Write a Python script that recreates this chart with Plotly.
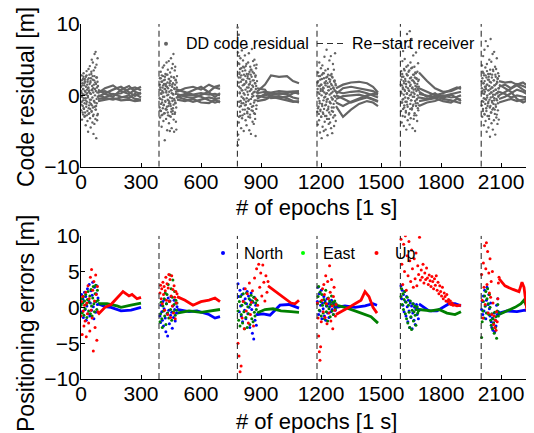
import numpy as np
import plotly.graph_objects as go

# ---------------- data ----------------
restart_epochs = [390, 782, 1180, 1597, 2001]
x_tick_vals = [0, 300, 600, 900, 1200, 1500, 1800, 2100]

# DD code residual: noisy start of each session (epoch windows + values)
cloud_windows = [(0, 85), (392, 480), (788, 880), (1182, 1275), (1599, 1690), (2003, 2090)]
cloud_1 = [1.2, -2.1, 0.4, 2.8, -0.9, -3.4, 1.7, 0.2, -1.5, 2.3,
           -2.7, 0.9, 3.1, -0.4, -1.9, 1.4, -3.0, 2.0, 0.6, -2.4,
           1.9, -0.7, -4.2, 2.6, 0.1, -1.2, 3.4, -2.8, 0.8, 1.5,
           -3.6, 2.2, -0.3, -5.1, 1.1, 3.7, -1.8, 0.5, -2.5, 2.9,
           -1.0, 4.1, -3.2, 0.3, 1.8, -4.5, 2.4, -0.6, 3.3, -2.2,
           5.0, -1.4, 0.7, -3.8, 2.7, 4.6, -2.9, 1.0, -5.4, 3.5,
           -0.8, 2.1, -4.0, 5.8, -1.6, 0.9, 3.9, -3.3, 6.1, -2.0,
           1.6, -6.0, 4.3, -1.1, 2.5, -3.5, 0.4, 5.2, -2.6, 1.3]
cloud_1b = [0.6, -1.3, 2.1, -0.2, 1.4, -2.4, 0.9, -0.7, 2.6, -1.8, 0.1, 1.7, -1.1, 2.3, -2.9,
            0.5, -0.4, 1.2, -1.6, 2.8, -0.9, 0.3, -2.2, 1.9, -0.1, 1.0, -2.6, 2.4, -1.4, 0.7,
            1.6, -0.6, -1.9, 2.0, 0.2, -1.2, 3.0, -2.3, 0.8, 1.3, -0.3, 2.2, -1.7, 0.4, -2.7,
            1.5, -0.8, 2.7, -1.0, 0.0, 1.8, -2.0, 0.6, -1.5, 2.5, -0.5, 1.1, -2.8, 1.9, -0.2]
cloud_2 = [0.8, -1.7, 2.4, -3.1, 1.1, -0.5, 3.3, -2.2, 0.3, 1.9,
           -4.4, 2.8, -1.0, 0.6, -2.7, 3.9, -0.2, 1.4, -3.6, 2.1,
           -1.3, 4.2, -2.5, 0.9, -6.3, 2.6, -0.8, 3.0, -1.9, 1.6,
           -3.3, 0.4, 4.6, -2.0, 1.2, -4.9, 2.9, -0.6, 3.6, -2.8,
           0.1, -1.5, 4.8, -3.9, 2.3, -0.9, 1.7, -5.0, 3.2, -1.2,
           2.0, -3.0, 5.2, -2.3, 0.7, -4.6, 3.8, -0.4, 1.5, -2.6,
           4.4, -1.8, 0.2, 5.8, -3.4, 2.5, -5.1, 1.0, -0.7, 3.5,
           -2.4, 4.0, -1.1, 2.2, -3.7, 0.5, -4.8, 1.8, -0.3, 2.7]
cloud_2b = [-0.4, 1.5, -2.1, 0.8, 2.4, -1.2, 0.2, -2.8, 1.9, -0.6, 1.1, -1.8, 2.7, 0.4, -1.4,
            1.6, -0.2, -2.5, 2.2, 0.9, -0.9, 1.3, -2.0, 0.6, 2.9, -1.6, 0.0, 1.8, -2.4, 1.0,
            -0.7, 2.3, -1.1, 0.5, -2.9, 1.4, -0.3, 2.0, -1.5, 0.7, 2.6, -1.9, 0.3, 1.2, -0.8,
            -2.2, 1.7, 0.1, -1.3, 2.5, -0.5, 0.9, -2.6, 1.5, -1.0, 2.1, 0.2, -1.7, 0.8, 1.1]
cloud_3 = [2.5, -3.8, 1.2, 4.4, -1.6, 0.3, 3.7, -2.9, 5.2, -0.8,
           1.9, -4.6, 2.8, -1.1, 6.3, -3.2, 0.7, 3.4, -2.0, 4.9,
           -0.4, 2.2, -5.0, 1.5, 3.9, -2.6, 0.1, 5.6, -1.4, 2.7,
           -3.5, 4.1, -0.9, 1.8, -4.2, 3.0, 6.8, -2.3, 0.5, 2.4,
           -1.8, 4.6, -3.0, 1.1, 5.9, -0.6, -4.9, 3.3, 1.6, -2.7,
           4.0, -1.2, 2.9, -5.4, 0.8, 3.6, -2.1, 6.5, -0.2, 1.4,
           -3.7, 2.1, 4.8, -1.5, 0.4, -4.0, 3.1, -2.5, 5.0, -0.7,
           1.7, -3.3, 2.6, -5.7, 0.9, 3.8, -1.9, 4.3, -0.1, 2.0]
cloud_3b = [1.8, -0.9, 3.2, 0.4, -2.3, 2.5, 1.0, -1.5, 3.8, -0.2, 0.7, 2.2, -2.8, 1.4, 4.0,
            -1.1, 0.3, 2.9, -0.6, 1.6, -2.0, 3.5, 0.8, -1.3, 2.0, 4.4, -0.4, 1.1, -2.5, 2.7,
            0.1, -0.8, 3.0, 1.5, -1.9, 2.3, 0.6, -3.1, 1.9, 3.6, -0.5, 0.9, 2.6, -1.6, 0.2,
            3.3, -2.2, 1.2, -0.1, 2.1, -1.0, 4.2, 0.5, -2.6, 1.7, 2.8, -0.7, 1.3, -1.4, 0.4]
cloud_4 = [-2.3, 1.8, -4.1, 3.2, 0.4, -1.6, 2.7, -3.5, 4.6, -0.8,
           1.3, -5.2, 2.2, -2.0, 0.9, 3.8, -3.0, 1.5, -6.0, 2.9,
           -1.2, 4.2, -4.4, 0.6, 3.1, -2.6, 1.0, -5.0, 2.4, -0.3,
           5.4, -3.7, 1.7, -1.4, 3.5, -4.8, 0.2, 2.0, -2.9, 6.4,
           -0.6, -3.3, 2.6, -5.6, 1.2, 3.7, -1.9, 0.7, -4.0, 2.3,
           -2.4, 4.9, -0.9, 1.9, -3.8, 2.8, -1.1, 5.5, -4.6, 0.3,
           3.0, -2.2, 1.4, -5.3, 2.5, -0.5, 4.4, -3.1, 1.1, -1.7,
           3.6, -4.3, 0.8, 2.1, -2.8, 5.9, -0.2, 1.6, -3.6, 0.5]
cloud_4b = [0.9, -1.8, 2.0, -0.4, -2.6, 1.3, 0.2, -1.1, 2.7, -2.2, 0.6, 1.5, -3.0, 0.0, 2.3,
            -1.5, 0.8, -2.4, 1.1, -0.7, 3.1, -1.9, 0.4, 1.8, -2.9, -0.2, 1.4, -1.3, 2.5, -0.9,
            0.3, -2.1, 1.7, -0.5, 2.9, -1.6, 0.7, -3.3, 1.2, 0.1, -1.0, 2.2, -2.7, 0.9, 1.6,
            -0.3, -1.7, 2.6, -0.6, 0.5, -2.3, 1.0, -1.2, 2.0, -0.1, 1.9, -2.8, 0.6, -0.8, 1.4]
cloud_5 = [1.5, -2.2, 3.4, 0.3, -3.8, 2.6, -1.0, 4.8, -2.9, 1.1,
           6.2, -0.5, 2.0, -4.3, 3.7, -1.7, 0.8, 5.1, -3.0, 2.3,
           -0.9, 7.5, -2.4, 1.6, -4.8, 3.0, 0.2, 8.6, -1.3, 2.8,
           -3.5, 4.2, -0.4, 1.9, 6.8, -2.7, 0.6, 3.5, -4.1, 9.0,
           1.3, -1.9, 4.6, -3.2, 0.1, 2.5, -0.7, 7.9, -2.0, 1.0,
           3.9, -4.6, 2.1, -1.5, 5.6, 0.4, -3.3, 2.9, -0.2, 4.0,
           -2.5, 1.7, -5.0, 3.2, 0.9, -1.1, 6.0, -2.8, 2.4, -0.6,
           1.2, -3.6, 3.3, 0.0, -1.8, 4.5, -2.1, 0.7, 2.2, -1.4]
cloud_5b = [0.5, 2.2, -1.0, 1.4, 3.0, -0.6, 0.9, -1.9, 2.6, 0.1, 1.7, -1.4, 3.5, 0.6, -0.3,
            2.0, -2.2, 1.2, 4.0, -0.9, 0.3, 2.8, -1.6, 1.0, -0.4, 3.3, 0.7, -2.5, 1.8, 0.0,
            2.4, -1.2, 1.5, -0.7, 3.8, 0.4, -1.8, 2.1, 1.1, -0.2, 2.9, -1.3, 0.8, 1.9, -2.8,
            0.2, 2.5, -0.8, 1.3, 3.1, -1.5, 0.6, 2.3, -0.5, 1.6, -1.1, 0.9, 2.0, -0.3, 1.2]
cloud_6 = [2.0, -1.4, 4.2, -3.0, 0.6, 3.3, -2.2, 5.5, -0.9, 1.7,
           -4.2, 2.8, 0.2, 6.4, -2.7, 1.2, -0.5, 3.9, -3.6, 7.6,
           0.9, -1.8, 2.5, -5.1, 4.4, -0.3, 1.5, -2.9, 6.9, -1.1,
           3.0, -4.5, 0.7, 2.2, -3.3, 5.0, -0.6, 1.9, -5.8, 3.6,
           -1.5, 7.9, -2.4, 0.4, 4.7, -3.9, 1.1, -0.8, 2.9, -2.0,
           5.8, -4.8, 0.1, 3.4, -1.2, 2.1, -3.5, 6.1, -0.4, 1.4,
           -2.6, 4.0, -5.5, 0.8, 2.6, -1.6, 3.7, -3.1, 0.3, 5.2,
           -0.7, 1.8, -4.0, 2.4, -2.1, 3.1, -0.2, 1.0, -3.4, 2.7]
cloud_6b = [1.0, -0.8, 2.4, 0.3, -1.9, 1.7, 3.1, -0.4, 0.8, -2.6, 2.0, 0.5, -1.2, 2.8, 1.2,
            -0.6, -2.2, 1.5, 3.4, 0.0, -1.5, 2.2, 0.7, -0.9, 2.6, -2.9, 1.3, 0.2, -1.7, 3.0,
            0.9, -0.3, 1.8, -2.4, 0.4, 2.5, -1.0, 1.1, -0.2, 3.6, -1.8, 0.6, 2.1, -0.7, 1.4,
            -2.0, 0.1, 2.9, -1.3, 0.8, 1.6, -0.5, -2.7, 1.9, 0.3, 2.3, -1.1, 0.5, -0.1, 1.0]
stripe3_epochs = [783, 784, 785, 786, 787, 788, 789, 790, 791, 792]
stripe3_vals = [9.5, -7.0, 6.0, -5.5, 4.5, -6.2, 8.5, -3.0, 5.5, 3.0]

# DD code residual: smooth per-satellite tracks after convergence
res_t1 = [85, 120, 160, 200, 240, 270, 300]
res_v1 = [[0.3, 1.0, 1.4, 0.6, 0.2, 0.8, 1.2],
          [0.8, 0.2, -0.2, 0.8, 1.3, 0.5, 0.2],
          [-0.2, 0.3, 0.8, 1.2, 0.5, -0.1, 0.4],
          [0.0, -0.3, 0.2, -0.2, -0.4, 0.2, -0.3],
          [-0.5, -0.4, -0.6, -0.3, 0.0, -0.5, -0.6],
          [0.5, 0.6, 0.1, 0.3, 0.9, 1.1, 0.7],
          [-0.8, -0.6, -0.4, -0.7, -0.6, -0.8, -0.7]]
res_t2 = [480, 520, 560, 600, 640, 670, 695]
res_v2 = [[0.5, 1.0, 1.2, 0.8, 1.5, 1.1, 0.9],
          [-0.3, 0.2, 0.8, 1.2, 0.4, -0.2, 0.3],
          [0.2, -0.2, -0.4, 0.0, 0.5, 1.2, 1.4],
          [-0.2, -0.5, -0.9, -0.6, -0.3, -0.5, -0.4],
          [0.0, 0.1, 0.0, -0.2, -0.7, -1.0, -0.8],
          [0.8, 0.4, 0.1, 0.3, 0.1, 0.2, 0.0],
          [-0.6, -0.8, -0.5, -1.0, -1.1, -0.6, -1.0]]
res_t3 = [880, 920, 950, 990, 1030, 1060, 1090]
res_v3 = [[0.5, 1.5, 2.8, 2.6, 2.7, 2.0, 1.7],
          [0.3, 0.5, 0.4, 0.6, 0.5, 0.6, 0.6],
          [-0.2, 0.0, 0.3, 0.2, 0.3, 0.5, 0.2],
          [0.0, -0.3, -0.2, -0.1, -0.4, -0.8, -1.0],
          [-0.5, 0.2, 0.0, 0.3, 0.1, -0.3, -0.5],
          [1.0, 0.8, -0.4, -0.3, -0.2, 0.3, 0.4],
          [-0.8, -0.6, -0.2, -0.5, -0.7, -0.9, -0.8]]
res_t4 = [1275, 1310, 1350, 1390, 1430, 1460, 1485]
res_v4 = [[1.0, 1.5, 1.8, 1.9, 1.7, 1.2, 0.4],
          [0.2, 1.0, 1.2, 1.0, 0.8, 0.6, 0.2],
          [0.5, 0.3, 0.5, 0.6, 0.3, 0.0, -0.3],
          [-0.5, -0.1, 0.0, 0.1, -0.2, -0.5, -0.8],
          [-1.5, -3.0, -2.0, -1.2, -0.8, -1.0, -1.5],
          [0.0, -0.5, -1.0, -0.6, -0.3, -0.6, -0.9],
          [-1.0, -1.5, -0.9, -0.4, 0.0, 0.2, 0.1]]
res_t5 = [1690, 1730, 1770, 1810, 1850, 1880, 1900]
res_v5 = [[3.2, 2.0, 1.0, 0.5, 0.6, 1.0, 1.2],
          [1.0, 0.5, 0.0, 0.3, 0.8, 1.1, 0.9],
          [0.2, 0.0, -0.3, -0.1, 0.2, 0.4, 0.5],
          [-0.3, -0.5, -0.2, 0.0, -0.3, -0.2, 0.0],
          [-0.8, -0.6, -0.4, -0.8, -1.0, -0.5, -0.6],
          [0.5, -0.2, 0.3, -0.5, -0.7, -1.0, -1.1],
          [-1.5, -1.0, -0.8, -0.3, 0.1, -0.4, -0.8]]
res_t6 = [2090, 2120, 2150, 2180, 2210, 2240, 2270]
res_v6 = [[2.0, 1.8, 1.9, 1.5, 1.8, 1.2, 0.8],
          [1.2, 1.5, 1.0, 1.6, 1.3, 1.0, 0.6],
          [0.0, 0.5, 1.0, 1.4, 0.8, 0.3, 0.2],
          [-0.5, -0.2, 0.3, 0.8, 0.5, 0.0, -0.2],
          [0.5, 0.2, -0.3, 0.0, -0.2, -0.3, -0.4],
          [-1.0, -0.8, -0.5, -0.8, -0.6, -0.4, -0.5],
          [1.5, 1.0, 0.5, -0.5, -1.0, -0.6, -0.3]]

# Positioning errors: noisy start windows
ne_windows = [(0, 85), (395, 480), (785, 880), (1182, 1275), (1600, 1690), (2003, 2090)]
up_windows = [(0, 85), (395, 480), (785, 935), (1182, 1275), (1600, 1860), (2003, 2090)]
north_1 = [0.5, 1.8, -0.6, 1.2, -1.4, 0.9, 2.1, -0.3, 1.5, -1.8, 0.2, 2.6, -0.9, 1.0, 3.2,
           -1.2, 0.6, 2.3, -0.4, 1.7, 3.5, 0.1, -1.6, 2.8, 0.8, -0.7, 1.9, 3.0, 0.4, 1.3]
east_1 = [0.3, 1.2, -0.8, 0.6, 1.5, -1.1, 0.9, -0.2, 1.8, 0.4, -1.4, 1.1, 2.2, -0.5, 0.7,
          1.6, -0.9, 2.5, 0.2, -1.2, 1.3, 2.9, 0.5, -0.6, 1.9, 3.1, 0.8, -0.3, 2.4, 1.0]
up_1 = [-1.2, 0.8, -3.8, 1.5, -0.5, -2.6, 0.3, -1.9, 2.1, -4.1, 0.6, -0.9, 3.0, -2.2, 1.2,
        -3.3, 4.2, -0.4, 5.3, -1.5, 2.4, -6.1, 3.6, 0.9, -2.8, 4.5, 1.8, -4.6, 2.9, -0.6]
north_2 = [-1.2, -2.1, 0.3, -0.6, -1.8, 0.8, -2.6, -0.2, 1.1, -1.5, -3.4, 0.5, -0.9, -4.0, 1.3,
           -0.4, -2.3, 0.9, -1.1, 1.5, -0.7, -2.9, 0.2, -1.4, 1.0, -0.3, -1.9, 0.6, -0.8, 0.1]
east_2 = [-2.0, -0.9, 0.7, -1.6, -2.8, 0.2, -0.5, 1.2, -1.2, 2.0, -2.4, 0.5, 1.8, -0.8, 3.2,
          -1.5, 0.9, 4.5, -0.3, 2.6, -1.8, 1.4, 3.8, -0.6, 0.4, 2.2, -1.1, 1.0, -0.4, 0.6]
up_2 = [2.0, 3.1, 1.2, 2.6, 0.5, 3.5, 1.8, 2.9, -0.4, 2.3, 4.2, 1.0, 3.3, -1.0, 2.7,
        4.6, 0.8, 3.9, -1.4, 1.6, 4.4, 0.2, 2.5, -0.8, 3.0, 1.4, -1.6, 2.2, 0.6, 1.9]
north_3 = [3.3, 1.5, -0.6, 2.4, 0.2, -1.2, 1.8, -2.0, 0.9, 2.6, -0.4, 1.2, -1.6, 0.5, 2.2,
           -0.9, 1.6, 0.0, -2.8, 1.0, 2.0, -0.3, -3.6, 0.7, -4.4, 1.4, -1.8, 0.3, -2.5, -1.0]
east_3 = [-0.5, -1.8, 0.8, -2.6, 1.5, -1.0, 0.3, -2.2, 1.9, -0.6, -3.0, 0.6, -1.4, 2.0, -2.8,
          0.1, -0.9, 1.2, -2.4, 0.4, 1.7, -1.6, 0.9, -2.0, 1.4, -0.7, -1.2, 0.6, -0.3, 1.0]
up_3 = [-5.0, -6.8, -9.0, -8.2, -1.5, 0.8, -3.0, 2.6, -0.5, 1.9, -2.2, 3.4, -1.0, 0.7, 2.3,
        -2.6, 4.1, 1.2, 5.4, 0.3, 6.0, 2.8, 4.8, 1.6, 5.9, 3.5, 0.9, 4.4, 2.1, 3.6]
north_4 = [0.8, 2.8, -1.0, 1.9, -0.5, 0.3, 2.4, -1.6, 0.6, -0.2, 1.5, -1.2, 0.9, -1.8, 0.2,
           1.2, -0.8, 0.5, -1.4, 0.1, 0.7, -0.6, 1.0, -0.3, 0.4, -1.0, 0.6, 0.0, -0.4, 0.3]
east_4 = [0.5, 1.5, 2.9, -0.4, 2.1, 0.8, -1.2, 1.8, 0.3, -0.8, 1.1, -1.6, 0.6, 2.4, -0.6,
          0.2, -1.9, 1.3, -0.2, 0.9, -1.3, 0.4, 1.6, -0.5, 0.7, -1.0, 0.3, 0.9, -0.2, 0.5]
up_4 = [0.6, -1.5, -4.0, -6.2, -7.4, -5.5, -2.0, 1.0, 2.6, -0.6, 3.2, 1.8, -1.4, 4.4, 0.5,
        -2.3, 3.6, 1.2, -0.8, 5.8, 2.1, -1.9, 3.9, 0.2, -3.0, 1.5, 2.8, -0.4, -1.2, 0.4]
north_5 = [3.0, 1.2, 2.4, 0.3, 1.8, -0.6, 2.2, 0.8, -1.2, 1.5, 0.1, -2.0, 1.0, -0.5, -2.8,
           0.6, -1.4, 0.2, -3.0, -0.8, 0.5, -1.8, 0.0, -2.4, -0.3, 0.4, -1.0, -0.2, -1.6, -0.4]
east_5 = [1.5, 2.6, 0.4, 1.9, -0.3, 1.1, 2.2, -0.9, 0.7, -1.6, 1.4, -2.2, 0.3, -0.7, -2.8,
          0.9, -1.3, -3.1, -0.4, 0.5, -1.9, -0.6, 0.2, -1.1, -2.5, -0.3, 0.1, -0.8, -0.5, -0.4]
up_5 = [9.5, 6.0, 3.2, 8.8, 5.0, 10.0, 2.4, 7.2, 4.4, 9.2, 6.5, 3.6, 8.0, 5.4, 2.8,
        6.8, 4.0, 7.6, 3.0, 5.8, 4.6, 9.8, 3.8, 5.2, 4.2, 6.0, 3.4, 4.8, 3.9, 5.5,
        4.1, 3.2, 4.5, 3.7, 2.9, 4.3, 3.6, 2.6, 4.0, 3.1, 4.4, 2.4, 3.5, 1.9, 3.0,
        2.2, 1.6, 2.8, 1.2, 2.0, 1.5, 0.9, 1.8, 0.8, 1.1, 0.5, 0.9, 0.4, 0.6, 0.3]
north_6 = [-0.3, 0.8, -1.0, 1.6, -0.5, 2.4, 0.2, -1.6, 1.0, 2.8, -0.8, 0.4, 1.8, -0.2, -1.2,
           0.6, -2.0, -2.8, -1.5, -3.2, -2.2, -0.8, -3.4, -1.8, -2.6, 0.3, -1.0, 1.2, -0.6, -0.9]
east_6 = [-4.2, -2.0, -0.5, 0.8, -1.5, 1.6, 0.2, 2.2, -0.8, 1.2, 2.6, 0.5, -1.0, 1.8, 0.0,
          -1.8, -2.5, -0.9, -3.0, -1.6, -2.2, -3.6, -0.7, -2.8, -1.3, -4.3, -0.5, 0.4, -1.2, -0.8]
up_6 = [4.6, 1.0, -1.5, 6.2, 2.8, 8.6, 0.4, 5.4, 9.0, 3.2, 7.8, -0.8, 4.8, 2.0, 6.8,
        1.4, 3.6, -1.0, 5.0, 0.6, -2.4, -1.2, -2.8, -1.8, -3.2, -0.6, -2.0, 1.2, 3.4, 4.2]

# Positioning errors: smooth tracks after convergence
north_t = [[85, 120, 150, 200, 250, 300], [480, 540, 580, 620, 640, 670, 695],
           [880, 910, 945, 995, 1040, 1090], [1275, 1320, 1370, 1420, 1460, 1480],
           [1690, 1740, 1780, 1810, 1840, 1870, 1900], [2090, 2130, 2180, 2220, 2270]]
north_v = [[0.5, 0.1, 0.0, -0.5, -0.4, 0.0], [-0.3, -0.6, -0.5, -0.8, -1.0, -1.5, -1.3],
           [-1.0, -0.9, -1.1, 0.3, 0.4, -0.1], [0.0, 0.2, 0.0, 0.2, 0.5, 0.3],
           [0.5, -0.5, -0.5, 0.0, 0.5, 0.5, 0.2], [-0.8, -0.5, -0.6, -0.4, -0.5]]
east_t = [[85, 130, 180, 200, 250, 300], [480, 540, 600, 650, 695],
          [880, 920, 960, 1000, 1050, 1090], [1275, 1320, 1370, 1420, 1450, 1485],
          [1690, 1750, 1790, 1830, 1870, 1900], [2090, 2130, 2170, 2200, 2215, 2235, 2270]]
east_v = [[0.5, 0.5, 0.2, 0.0, 0.3, 0.6], [-0.8, -0.5, -0.7, -0.5, -0.3],
          [-0.8, -0.3, -0.2, -0.5, -0.6, -0.7], [0.3, 0.0, -0.5, -1.0, -1.3, -2.2],
          [-0.3, -0.5, -0.3, -0.8, -1.0, -0.6], [-1.0, -0.5, 0.0, 0.5, 1.0, -0.3, 0.3]]
up_t = [[85, 120, 150, 180, 210, 240, 255, 280, 300], [480, 520, 560, 600, 640, 670, 695],
        [935, 960, 990, 1020, 1050, 1070, 1090],
        [1275, 1310, 1340, 1370, 1400, 1420, 1440, 1460, 1480],
        [1860, 1880, 1900], [2090, 2120, 2160, 2190, 2205, 2215, 2230, 2245, 2270]]
up_v = [[-1.0, 0.0, 0.4, 1.3, 2.2, 1.6, 1.8, 1.2, 1.4], [1.5, 1.0, 0.3, 0.8, 1.0, 1.3, 0.8],
        [3.0, 2.5, 1.8, 1.2, 0.6, 0.5, 1.0],
        [-1.0, -0.5, 0.0, 0.5, 1.0, 2.2, 1.5, 0.0, -0.8],
        [0.4, 0.2, 0.3], [4.0, 3.0, 2.5, 2.2, 3.5, 2.8, -0.5, 0.0, -0.2]]

clouds = [cloud_1, cloud_2, cloud_3, cloud_4, cloud_5, cloud_6]
clouds_b = [cloud_1b, cloud_2b, cloud_3b, cloud_4b, cloud_5b, cloud_6b]
res_t = [res_t1, res_t2, res_t3, res_t4, res_t5, res_t6]
res_v = [res_v1, res_v2, res_v3, res_v4, res_v5, res_v6]
north_noise = [north_1, north_2, north_3, north_4, north_5, north_6]
east_noise = [east_1, east_2, east_3, east_4, east_5, east_6]
up_noise = [up_1, up_2, up_3, up_4, up_5, up_6]

# ---------------- style ----------------
GRAY = "#646464"
BLUE = "#0000ff"
GREEN = "#008000"
RED = "#ff0000"
DASH = "#303030"
FONT = "Liberation Sans, Arial, Helvetica, sans-serif"

OFF = 8                      # page body margin of the html page
W, H = 534 - OFF, 433 - OFF  # figure drawn from (8, 8) to the window edge
# window-pixel frame of the two plot areas
X_LEFT, Y_TOP, Y_BOTTOM = 81, 24, 379
ML = X_LEFT - OFF
MT = Y_TOP - OFF
MB = H - (Y_BOTTOM - OFF)
MR = 0
PW, PH = W - ML - MR, H - MT - MB

def px(x):   # window pixel -> paper
    return (x - OFF - ML) / PW
def py(y):
    return (H - MB - (y - OFF)) / PH

fig = go.Figure()

def add_pts(x, y, color, size, xa, ya):
    fig.add_trace(go.Scatter(x=x, y=y, mode="markers", xaxis=xa, yaxis=ya,
                             marker=dict(color=color, size=size, line=dict(width=0)),
                             showlegend=False, hoverinfo="skip"))

def add_line(x, y, color, width, xa, ya):
    fig.add_trace(go.Scatter(x=x, y=y, mode="lines", xaxis=xa, yaxis=ya,
                             line=dict(color=color, width=width),
                             showlegend=False, hoverinfo="skip"))

# top panel
for (a, b), vals, vals_b in zip(cloud_windows, clouds, clouds_b):
    add_pts(np.linspace(a, b, len(vals)), vals, GRAY, 2.4, "x", "y")
    add_pts(np.linspace(a + 1, b - 1, len(vals_b)), vals_b, GRAY, 2.4, "x", "y")
add_pts(stripe3_epochs, stripe3_vals, GRAY, 2.4, "x", "y")
for t, lines in zip(res_t, res_v):
    for v in lines:
        add_line(t, v, GRAY, 2.2, "x", "y")

# bottom panel
for k in range(6):
    for t, v, c in ((north_t[k], north_v[k], BLUE), (east_t[k], east_v[k], GREEN),
                    (up_t[k], up_v[k], RED)):
        add_line(t, v, c, 2.8, "x2", "y2")
    a, b = ne_windows[k]
    add_pts(np.linspace(a, b, len(north_noise[k])), north_noise[k], BLUE, 3, "x2", "y2")
    add_pts(np.linspace(a, b, len(east_noise[k])), east_noise[k], GREEN, 3, "x2", "y2")
    a, b = up_windows[k]
    add_pts(np.linspace(a, b, len(up_noise[k])), up_noise[k], RED, 3, "x2", "y2")

# restart lines
for xa, ya in (("x", "y"), ("x2", "y2")):
    xs, ys = [], []
    for e in restart_epochs:
        xs += [e, e, None]
        ys += [-10, 10, None]
    fig.add_trace(go.Scatter(x=xs, y=ys, mode="lines", xaxis=xa, yaxis=ya,
                             line=dict(color=DASH, width=1.1, dash="6px,4px"),
                             showlegend=False, hoverinfo="skip"))

axis_common = dict(range=[0, 2265], tickvals=x_tick_vals, ticks="inside", ticklen=4,
                   tickcolor="black", showline=True, linecolor="black", linewidth=1,
                   showgrid=False, zeroline=False, ticklabelstandoff=-4,
                   tickfont=dict(size=21, color="black"))
yaxis_common = dict(range=[-10, 10], ticks="inside", ticklen=4, tickcolor="black",
                    showline=True, linecolor="black", linewidth=1, showgrid=False,
                    zeroline=False, ticklabelstandoff=-4,
                    tickfont=dict(size=21, color="black"))

top0 = py(166.7)
bot1 = py(235.7)
fig.update_layout(
    width=W, height=H, margin=dict(l=ML, r=MR, t=MT, b=MB, autoexpand=False),
    plot_bgcolor="white", paper_bgcolor="white",
    font=dict(family=FONT, color="black"),
    showlegend=False,
    xaxis=dict(domain=[0, 1], anchor="y", **axis_common),
    yaxis=dict(domain=[top0, 1], anchor="x", tickvals=[-10, 0, 10], **yaxis_common),
    xaxis2=dict(domain=[0, 1], anchor="y2", **axis_common),
    yaxis2=dict(domain=[0, bot1], anchor="x2", tickvals=[-10, -5, 0, 5, 10], **yaxis_common),
)

ann = []
def text(x, y, s, size, angle=0, xanchor="center"):
    ann.append(dict(x=px(x), y=py(y), xref="paper", yref="paper", text=s, showarrow=False,
                    textangle=angle, xanchor=xanchor, yanchor="middle",
                    font=dict(size=size, family=FONT, color="black")))

text(26, 97, "Code residual [m]", 23, angle=-90)
text(26, 324, "Positioning errors [m]", 23, angle=-90)
text(316, 207, "# of epochs [1 s]", 22)
text(316, 421, "# of epochs [1 s]", 22)

# legends
text(184, 43.5, "DD code residual", 16, xanchor="left")
text(350, 43.5, "Re\u2212start receiver", 16, xanchor="left")
text(241.5, 253, "North", 16, xanchor="left")
text(321, 253, "East", 16, xanchor="left")
text(392.5, 253, "Up", 16, xanchor="left")
fig.update_layout(annotations=ann)

shapes = []
def dot(x, y, color):
    shapes.append(dict(type="circle", xref="paper", yref="paper", xsizemode="pixel",
                       ysizemode="pixel", xanchor=px(x), yanchor=py(y), x0=-2, x1=2,
                       y0=-2, y1=2, fillcolor=color, line=dict(width=0)))
dot(166, 43.8, GRAY)
dot(223, 253, BLUE)
dot(303, 253, "#00ff00")
dot(376.5, 253, RED)
shapes.append(dict(type="line", xref="paper", yref="paper", x0=px(317), x1=px(347),
                   y0=py(43.5), y1=py(43.5), line=dict(color=DASH, width=1.1, dash="6px,4px")))
fig.update_layout(shapes=shapes)

fig.write_html("out.html")
